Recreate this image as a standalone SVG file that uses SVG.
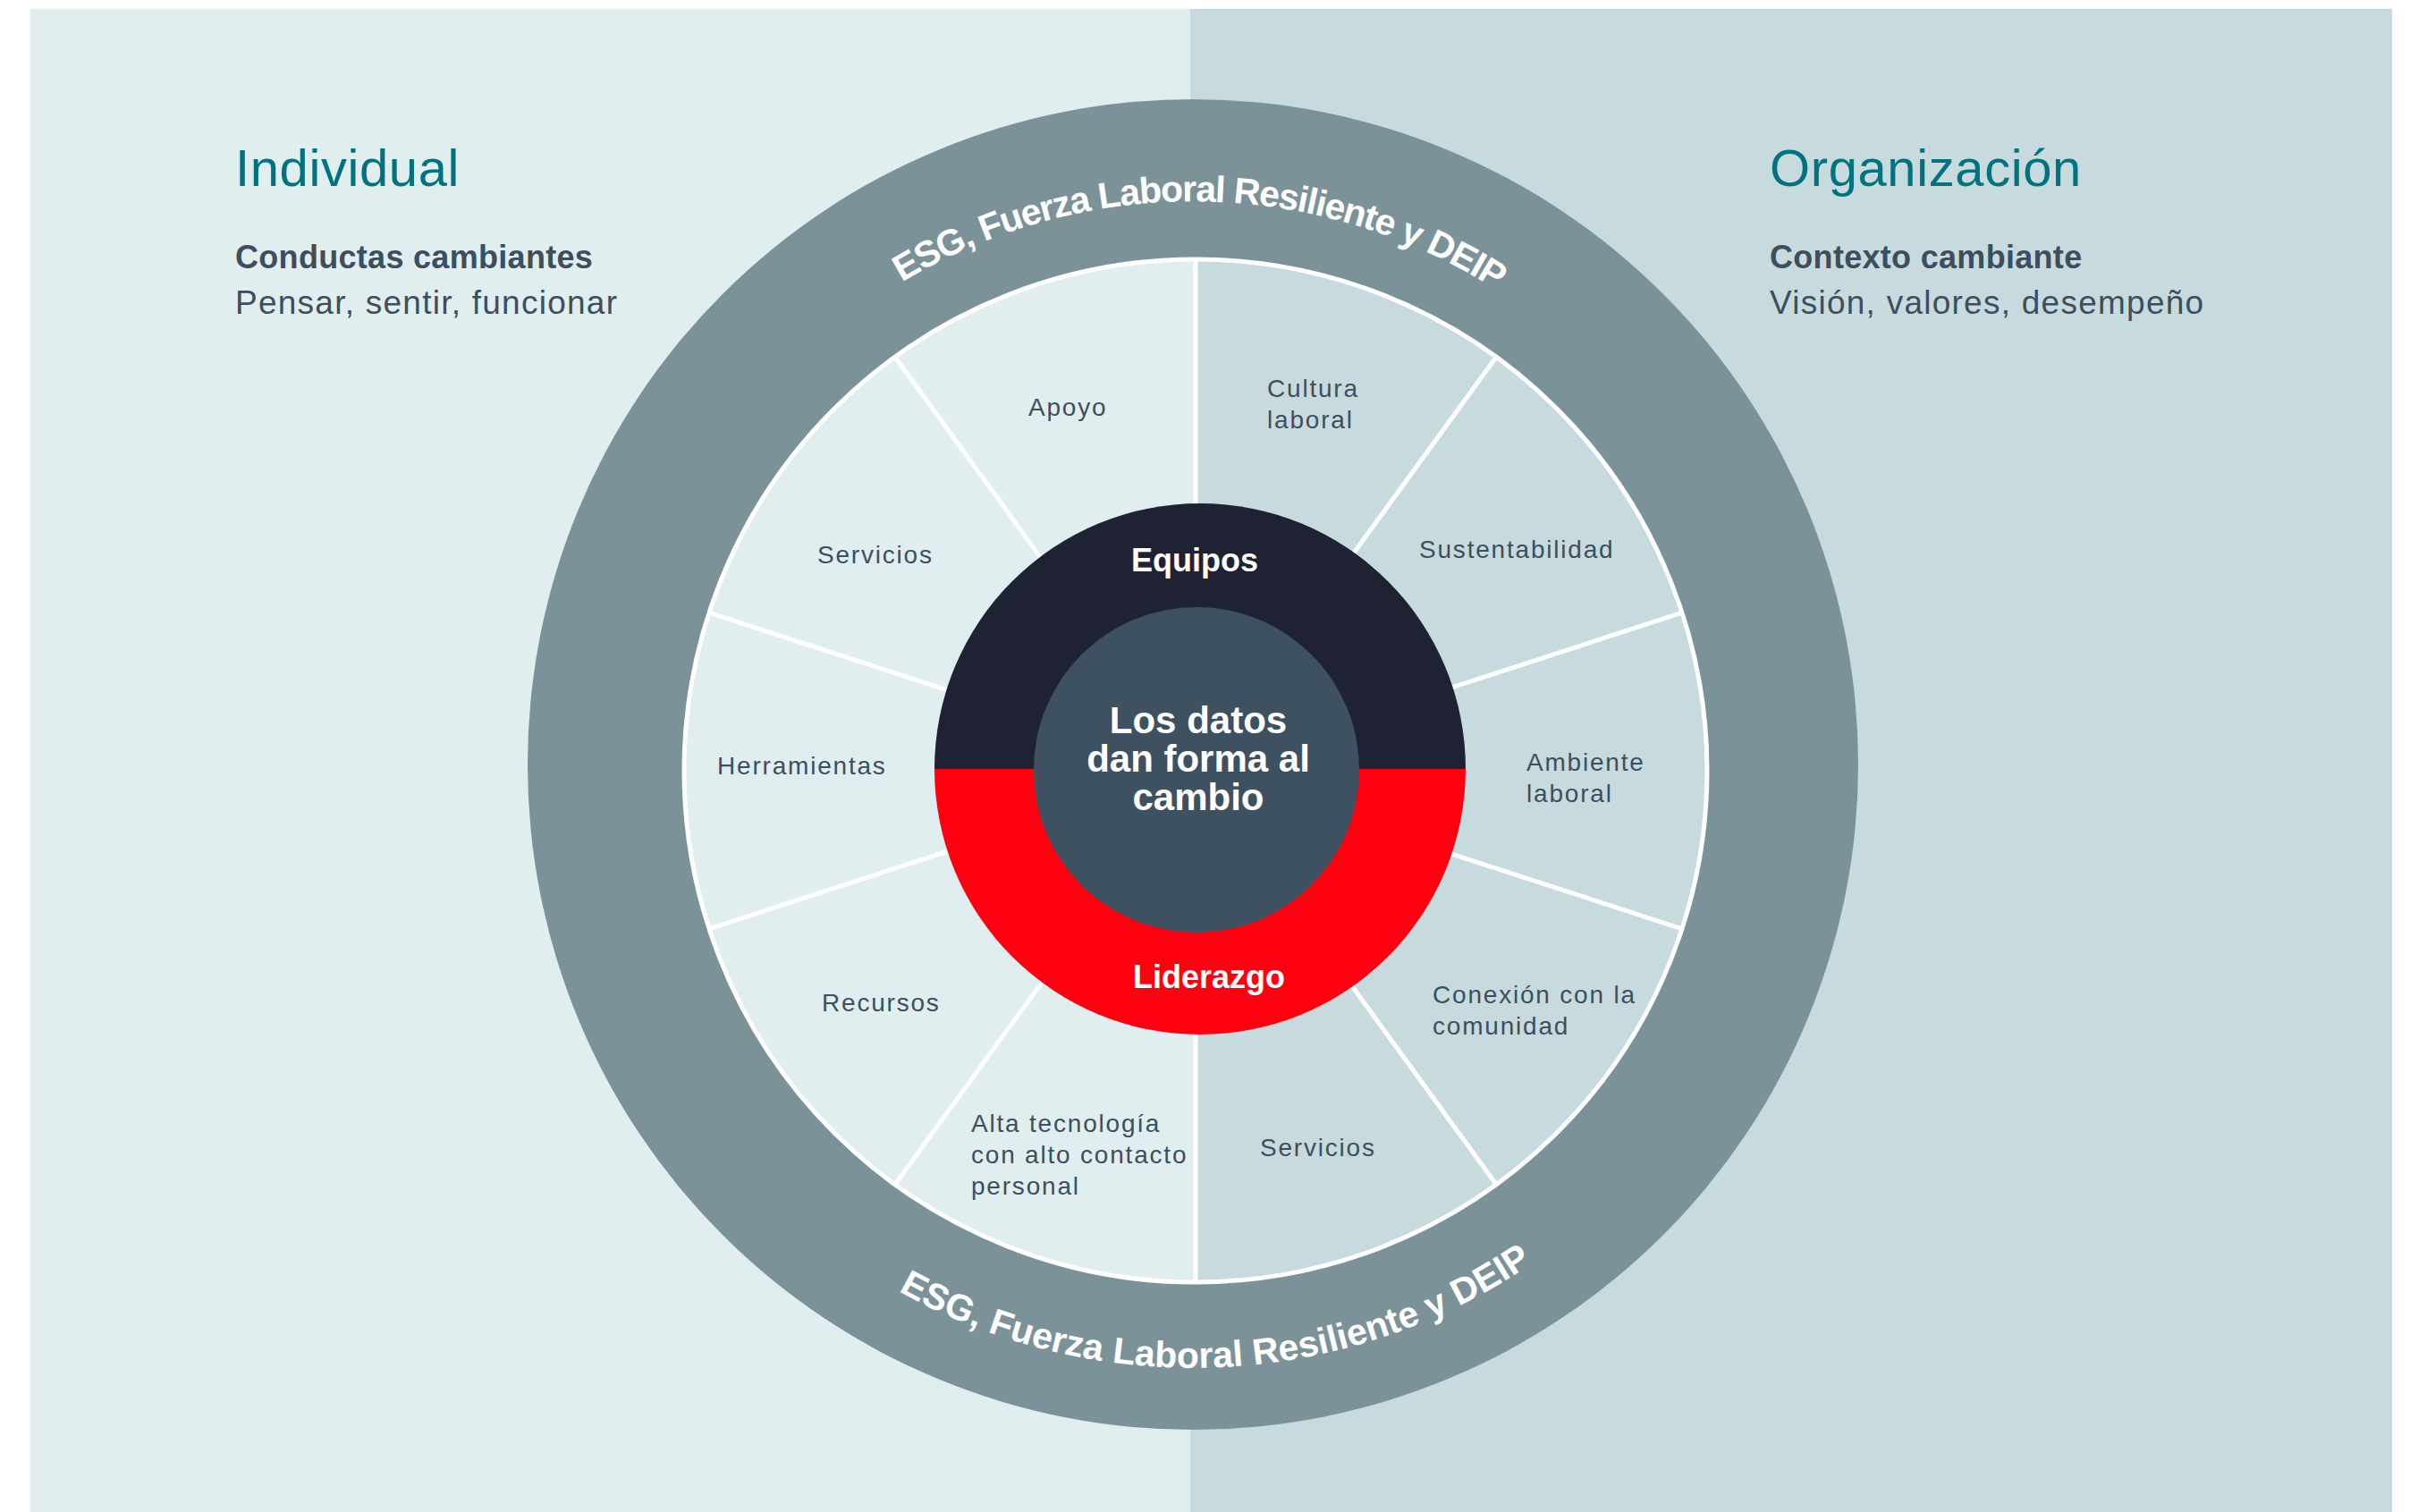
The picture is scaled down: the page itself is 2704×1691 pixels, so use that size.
<svg xmlns="http://www.w3.org/2000/svg" width="2704" height="1691" viewBox="0 0 2704 1691">
<style>
.title{font-family:"Liberation Sans",Arial,sans-serif;font-size:58px;fill:#00737f;letter-spacing:0.6px}
.sub{font-family:"Liberation Sans",Arial,sans-serif;font-size:36px;font-weight:bold;fill:#3d4f5d;letter-spacing:0.3px}
.desc{font-family:"Liberation Sans",Arial,sans-serif;font-size:37px;fill:#3d4f5d;letter-spacing:1.25px}
.lbl{font-family:"Liberation Sans",Arial,sans-serif;font-size:28px;fill:#3d4f5d;letter-spacing:1.8px}
.ring{font-family:"Liberation Sans",Arial,sans-serif;font-size:41px;font-weight:bold;fill:#ffffff}
.core{font-family:"Liberation Sans",Arial,sans-serif;font-weight:bold;fill:#ffffff;text-anchor:middle}
.div{stroke:#ffffff;stroke-width:5;fill:none}
</style>
<defs>
<path id="arcTop" d="M 704 855 A 630 630 0 0 1 1964 855"/>
<path id="arcBot" d="M 659 855 A 675 675 0 0 0 2009 855"/>
</defs>
<rect x="0" y="0" width="2704" height="1691" fill="#ffffff"/>
<rect x="34" y="10" width="1297" height="1681" fill="#e0eef0"/>
<rect x="1331" y="10" width="1344" height="1681" fill="#c7dbdf"/>

<g id="individual">
<text class="title" x="263" y="208">Individual</text>
<text class="sub" x="263" y="300">Conductas cambiantes</text>
<text class="desc" x="263" y="351">Pensar, sentir, funcionar</text>
</g>
<g id="organizacion">
<text class="title" x="1979" y="208">Organización</text>
<text class="sub" x="1979" y="300">Contexto cambiante</text>
<text class="desc" x="1979" y="351">Visión, valores, desempeño</text>
</g>

<g id="outer-ring">
<circle cx="1334" cy="855" r="744" fill="#7c9299"/>
<text class="ring" letter-spacing="-1.3"><textPath href="#arcTop" startOffset="50.4%" text-anchor="middle">ESG, Fuerza Laboral Resiliente y DEIP</textPath></text>
<text class="ring" letter-spacing="0"><textPath href="#arcBot" startOffset="51.4%" text-anchor="middle">ESG, Fuerza Laboral Resiliente y DEIP</textPath></text>
</g>

<g id="segments">
<path d="M 1337 290 A 572 572 0 0 0 1337 1434 Z" fill="#e0eef0"/>
<path d="M 1337 290 A 572 572 0 0 1 1337 1434 Z" fill="#c7dbdf"/>
</g>

<g id="dividers">
<line class="div" x1="1337" y1="862" x2="1337" y2="290"/>
<line class="div" x1="1337" y1="862" x2="1673.2" y2="399.2"/>
<line class="div" x1="1337" y1="862" x2="1881" y2="685.2"/>
<line class="div" x1="1337" y1="862" x2="1881" y2="1038.8"/>
<line class="div" x1="1337" y1="862" x2="1673.2" y2="1324.8"/>
<line class="div" x1="1337" y1="862" x2="1337" y2="1434"/>
<line class="div" x1="1337" y1="862" x2="1000.8" y2="1324.8"/>
<line class="div" x1="1337" y1="862" x2="793" y2="1038.8"/>
<line class="div" x1="1337" y1="862" x2="793" y2="685.2"/>
<line class="div" x1="1337" y1="862" x2="1000.8" y2="399.2"/>
<circle class="div" cx="1337" cy="862" r="572"/>
</g>

<g id="seg-apoyo"><text class="lbl" x="1150" y="465">Apoyo</text></g>
<g id="seg-cultura"><text class="lbl" x="1417" y="444">Cultura</text><text class="lbl" x="1417" y="479">laboral</text></g>
<g id="seg-servicios-1"><text class="lbl" x="914" y="630">Servicios</text></g>
<g id="seg-sustentabilidad"><text class="lbl" x="1587" y="624">Sustentabilidad</text></g>
<g id="seg-herramientas"><text class="lbl" x="802" y="866">Herramientas</text></g>
<g id="seg-ambiente"><text class="lbl" x="1707" y="862">Ambiente</text><text class="lbl" x="1707" y="897">laboral</text></g>
<g id="seg-recursos"><text class="lbl" x="919" y="1131">Recursos</text></g>
<g id="seg-conexion"><text class="lbl" x="1602" y="1122">Conexión con la</text><text class="lbl" x="1602" y="1157">comunidad</text></g>
<g id="seg-alta"><text class="lbl" x="1086" y="1266">Alta tecnología</text><text class="lbl" x="1086" y="1301">con alto contacto</text><text class="lbl" x="1086" y="1336">personal</text></g>
<g id="seg-servicios-2"><text class="lbl" x="1409" y="1293">Servicios</text></g>

<g id="equipos">
<path d="M 1045 860 A 297 297 0 0 1 1639 860 Z" fill="#1e2233"/>
<text class="core" x="1336" y="639" font-size="36">Equipos</text>
</g>
<g id="liderazgo">
<path d="M 1045 860 A 297 297 0 0 0 1639 860 Z" fill="#ff0011"/>
<text class="core" x="1352" y="1105" font-size="36">Liderazgo</text>
</g>
<g id="center">
<circle cx="1338" cy="861" r="182" fill="#3e5160"/>
<text class="core" x="1340" y="820" font-size="42">Los datos</text>
<text class="core" x="1340" y="863" font-size="42">dan forma al</text>
<text class="core" x="1340" y="906" font-size="42">cambio</text>
</g>
</svg>
